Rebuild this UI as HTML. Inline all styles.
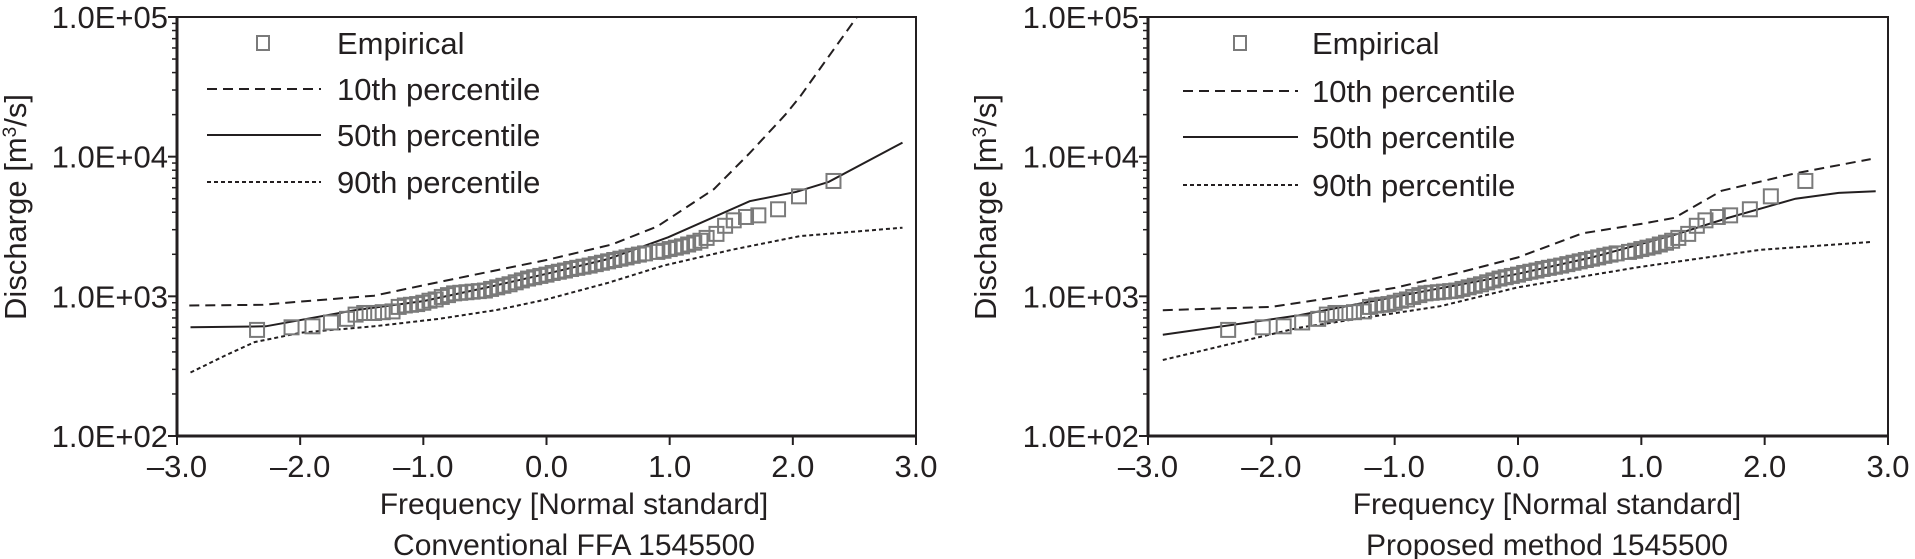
<!DOCTYPE html>
<html><head><meta charset="utf-8"><style>
html,body{margin:0;padding:0;background:#fff;}
svg{display:block;font-family:"Liberation Sans",sans-serif;}
</style></head><body>
<svg id="fig" width="1915" height="559" viewBox="0 0 1915 559" xmlns="http://www.w3.org/2000/svg"></svg>
<script>
const xTicks = [-3, -2, -1, 0, 1, 2, 3];
const xTickLabels = ["\u20133.0", "\u20132.0", "\u20131.0", "0.0", "1.0", "2.0", "3.0"];
const yTicks = [2, 3, 4, 5];
const yTickLabels = ["1.0E+02", "1.0E+03", "1.0E+04", "1.0E+05"];
const empZ = [-2.35,-2.07,-1.9,-1.75,-1.62,-1.55,-1.48,-1.4,-1.33,-1.25,-1.2,-1.15,-1.1,-1.05,-1.0,-0.95,-0.9,-0.85,-0.8,-0.75,-0.7,-0.65,-0.6,-0.55,-0.5,-0.45,-0.4,-0.35,-0.3,-0.25,-0.2,-0.15,-0.1,-0.05,0,0.05,0.1,0.15,0.2,0.25,0.3,0.35,0.4,0.45,0.5,0.55,0.6,0.65,0.7,0.75,0.8,0.9,0.95,1.0,1.05,1.1,1.15,1.2,1.25,1.3,1.38,1.45,1.52,1.62,1.72,1.88,2.05,2.33];
const empQ = [575,600,610,650,690,740,760,760,770,780,840,860,870,880,900,930,950,990,1020,1050,1060,1070,1080,1090,1100,1130,1160,1190,1220,1260,1300,1340,1370,1400,1430,1470,1500,1530,1570,1600,1630,1660,1700,1740,1780,1820,1860,1900,1950,1990,2030,2080,2120,2180,2230,2280,2350,2420,2500,2620,2800,3200,3500,3700,3800,4200,5200,6700];
const convP10Z = [-2.9,-2.3,-1.95,-1.4,-1.0,-0.5,0.0,0.53,0.9,1.36,1.65,1.94,2.06,2.52];
const convP10Q = [860,870,925,1010,1200,1480,1820,2350,3170,5860,10600,20000,27000,100000];
const convP50Z = [-2.89,-2.28,-1.54,-1.0,-0.5,0.0,0.5,0.99,1.65,2.03,2.29,2.89];
const convP50Q = [600,610,800,925,1150,1450,1850,2650,4800,5600,6600,12600];
const convP90Z = [-2.89,-2.6,-2.37,-1.99,-1.4,-0.87,-0.4,0.0,0.5,0.95,1.5,2.06,2.89];
const convP90Q = [285,380,470,550,610,690,800,950,1250,1660,2150,2700,3100];
const propP10Z = [-2.88,-2.0,-1.5,-1.0,-0.49,0.0,0.52,1.0,1.27,1.65,2.25,2.86];
const propP10Q = [795,840,980,1150,1470,1900,2820,3300,3650,5700,7600,9600];
const propP50Z = [-2.88,-1.78,-0.8,0.0,0.6,1.27,1.7,2.25,2.6,2.9];
const propP50Q = [530,730,1070,1450,1900,2760,3640,5000,5500,5650];
const propP90Z = [-2.88,-1.78,-0.63,0.0,0.98,1.96,2.86];
const propP90Q = [350,595,850,1160,1620,2150,2450];

const NS = "http://www.w3.org/2000/svg";
const svg = document.getElementById("fig");
function mk(tag, attrs, parent) {
  const e = document.createElementNS(NS, tag);
  for (const k in attrs) e.setAttribute(k, attrs[k]);
  (parent || svg).appendChild(e);
  return e;
}
function panel(cfg) {
  const g = mk("g", {});
  
  
  const x0 = cfg.x0, x1 = cfg.x1, yTop = 17, yBot = 436;
  const sx = z => x0 + (z + 3) / 6 * (x1 - x0);
  const sy = q => yBot - (Math.log10(q) - 2) / 3 * (yBot - yTop);
  const syl = l => yBot - (l - 2) / 3 * (yBot - yTop);
  const clip = mk("clipPath", {id: "clip-" + cfg.name}, g);
  mk("rect", {x: x0, y: yTop, width: x1 - x0, height: yBot - yTop}, clip);
  const frame = mk("rect", {x: x0, y: yTop, width: x1 - x0, height: yBot - yTop, fill: "none", stroke: "#231f20", "stroke-width": 2}, g);
  
  
  const xa = mk("line", {x1: x0, x2: x1, y1: yBot, y2: yBot, stroke: "#231f20", "stroke-width": 3}, g);
  
  
  const ya = mk("line", {x1: x0, x2: x0, y1: yTop, y2: yBot, stroke: "#231f20", "stroke-width": 3}, g);
  
  
  yTicks.forEach((l, i) => {
    const y = syl(l);
    mk("line", {x1: x0 - 9, x2: x0, y1: y, y2: y, stroke: "#231f20", "stroke-width": 2}, g);
    const t = mk("text", {x: x0 - 9, y: y + 11, "text-anchor": "end", "font-size": 31, fill: "#231f20"}, g);
    t.textContent = yTickLabels[i];
    
    
    if (i < yTicks.length - 1) {
      for (let m = 2; m <= 9; m++) {
        const ym = syl(l + Math.log10(m));
        mk("line", {x1: x0 - 5, x2: x0, y1: ym, y2: ym, stroke: "#231f20", "stroke-width": 1.5}, g);
      }
    }
  });
  xTicks.forEach((z, i) => {
    const x = sx(z);
    mk("line", {x1: x, x2: x, y1: yBot, y2: yBot + 9, stroke: "#231f20", "stroke-width": 2}, g);
    const t = mk("text", {x: x, y: 477, "text-anchor": "middle", "font-size": 31, fill: "#231f20"}, g);
    t.textContent = xTickLabels[i];
    
    
  });
  const xt = mk("text", {x: cfg.tx, y: 514, "text-anchor": "middle", "font-size": 30, fill: "#231f20"}, g);
  xt.textContent = "Frequency [Normal standard]";
  
  
  const st = mk("text", {x: cfg.tx, y: 555, "text-anchor": "middle", "font-size": 30, fill: "#231f20"}, g);
  st.textContent = cfg.subtitle;
  
  
  const yt = mk("text", {x: 0, y: 0, "text-anchor": "middle", "font-size": 31, fill: "#231f20", transform: `translate(${cfg.ylx},207) rotate(-90)`}, g);
  yt.innerHTML = 'Discharge [m<tspan dy="-10" font-size="19">3</tspan><tspan dy="10">/s]</tspan>';
  
  
  const cg = mk("g", {"clip-path": `url(#clip-${cfg.name})`}, g);
  function line(zs, qs, dash, name) {
    const d = zs.map((z, i) => (i ? "L" : "M") + sx(z).toFixed(1) + "," + sy(qs[i]).toFixed(1)).join("");
    const p = mk("path", {d: d, fill: "none", stroke: "#231f20", "stroke-width": 2, "stroke-dasharray": dash}, cg);
    
    
  }
  line(cfg.p10z, cfg.p10q, "10,6", "line-10th-percentile");
  line(cfg.p50z, cfg.p50q, "none", "line-50th-percentile");
  line(cfg.p90z, cfg.p90q, "4,3", "line-90th-percentile");
  empZ.forEach((z, i) => {
    const r = mk("rect", {x: sx(z) - 7, y: sy(empQ[i]) - 7, width: 14, height: 14, fill: "none", stroke: "#7a7a7a", "stroke-width": 2}, cg);
    
    
  });
  const lg = mk("g", {}, g);
  
  
  const L = cfg.leg;
  const sq = mk("rect", {x: L.sqx - 6, y: 36, width: 12, height: 14, fill: "none", stroke: "#7a7a7a", "stroke-width": 2}, lg);
  
  
  const entries = [["Empirical", null, 43], ["10th percentile", "10,6", L.y1], ["50th percentile", "none", L.y2], ["90th percentile", "4,3", L.y3]];
  entries.forEach(([lab, dash, y]) => {
    if (dash) mk("line", {x1: L.lx0, x2: L.lx1, y1: y, y2: y, stroke: "#231f20", "stroke-width": 2, "stroke-dasharray": dash}, lg);
    const t = mk("text", {x: L.tx, y: y + 11, "font-size": 31, fill: "#231f20"}, lg);
    t.textContent = lab;
    
    
  });
}
panel({name: "conventional-ffa-panel", x0: 177, x1: 916, tx: 574, ylx: 26, subtitle: "Conventional FFA 1545500",
  p10z: convP10Z, p10q: convP10Q, p50z: convP50Z, p50q: convP50Q, p90z: convP90Z, p90q: convP90Q,
  leg: {sqx: 263, lx0: 207, lx1: 321, tx: 337, y1: 89, y2: 135, y3: 182}});
panel({name: "proposed-method-panel", x0: 1148, x1: 1888, tx: 1547, ylx: 996, subtitle: "Proposed method 1545500",
  p10z: propP10Z, p10q: propP10Q, p50z: propP50Z, p50q: propP50Q, p90z: propP90Z, p90q: propP90Q,
  leg: {sqx: 1240, lx0: 1183, lx1: 1298, tx: 1312, y1: 91, y2: 137, y3: 185}});
</script>
</body></html>
